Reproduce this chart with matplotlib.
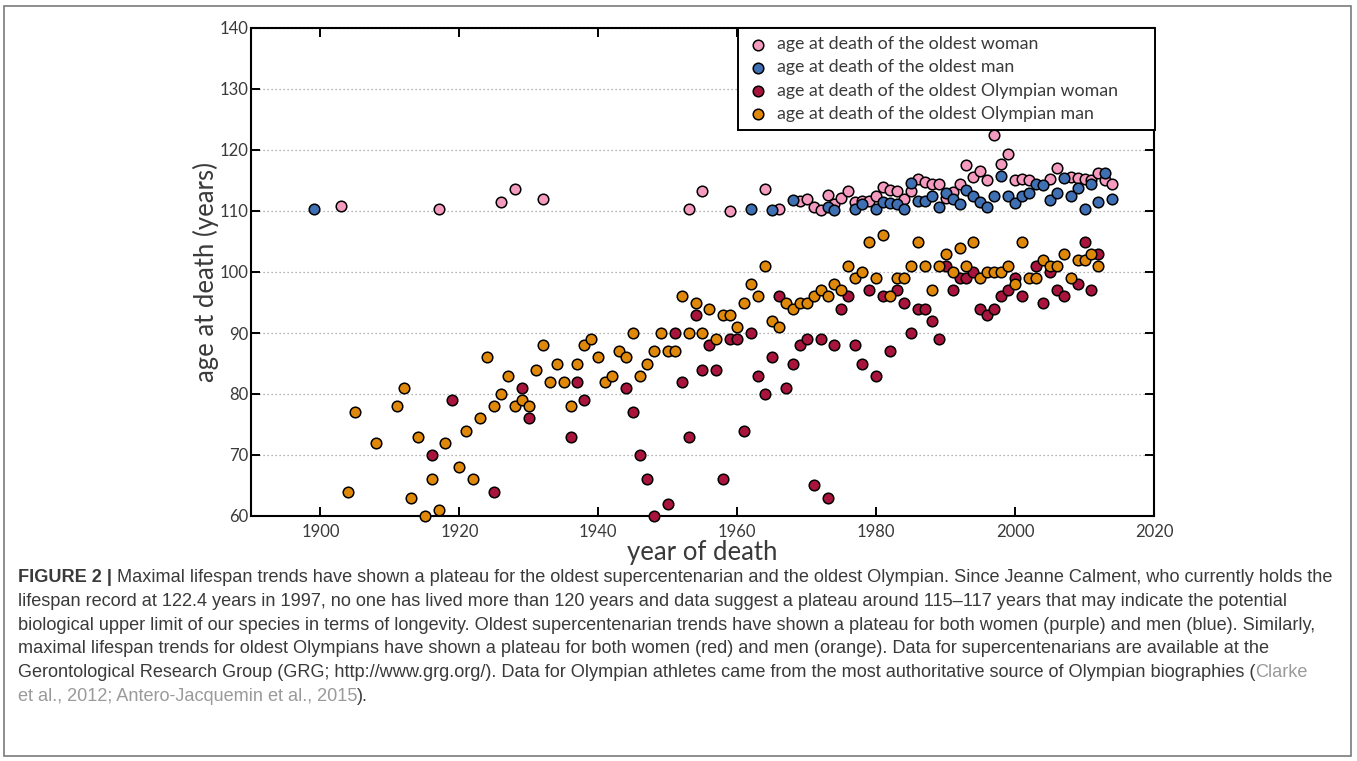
import matplotlib
matplotlib.use("Agg")
import matplotlib.pyplot as plt
from matplotlib.patches import Rectangle
from matplotlib import font_manager

W, H, DPI = 1357, 761, 100

# ---- data -------------------------------------------------------------
woman_years = [1903, 1917, 1926, 1928, 1932, 1953, 1955, 1959, 1964, 1966,
               1969, 1970, 1971, 1972, 1973, 1974, 1975, 1976, 1977, 1978,
               1979, 1980, 1981, 1982, 1983, 1984, 1985, 1986, 1987, 1988,
               1989, 1990, 1991, 1992, 1993, 1994, 1995, 1996, 1997, 1998,
               1999, 2000, 2001, 2002, 2005, 2006, 2008, 2009, 2010, 2011,
               2012, 2013, 2014]
woman_ages = [110.8, 110.3, 111.4, 113.6, 111.9, 110.3, 113.2, 110.0, 113.6, 110.3,
              111.7, 111.9, 110.7, 110.1, 112.7, 111.1, 112.2, 113.2, 111.4, 111.6,
              111.7, 112.4, 113.9, 113.4, 113.3, 112.0, 113.2, 115.3, 114.7, 114.4,
              114.4, 112.2, 113.1, 114.5, 117.6, 115.6, 116.5, 115.0, 122.4, 117.7,
              119.3, 115.0, 115.2, 115.1, 115.2, 117.0, 115.6, 115.4, 115.2, 115.0,
              116.3, 115.1, 114.4]

man_years = [1899, 1962, 1965, 1968, 1973, 1974, 1977, 1978, 1980, 1981,
             1982, 1983, 1984, 1985, 1986, 1987, 1988, 1989, 1990, 1991,
             1992, 1993, 1994, 1995, 1996, 1997, 1998, 1999, 2000, 2001,
             2002, 2003, 2004, 2005, 2006, 2007, 2008, 2009, 2010, 2011,
             2012, 2013, 2014]
man_ages = [110.3, 110.3, 110.1, 111.8, 110.7, 110.1, 110.4, 111.1, 110.4, 111.4,
            111.3, 111.1, 110.3, 114.6, 111.6, 111.6, 112.4, 110.7, 112.9, 111.9,
            111.2, 113.4, 112.4, 111.4, 110.6, 112.4, 115.7, 112.5, 111.3, 112.5,
            112.9, 114.4, 114.3, 111.8, 112.9, 115.4, 112.5, 113.8, 110.4, 114.5,
            111.4, 116.2, 112.0]

oly_woman_years = [1916, 1919, 1925, 1929, 1930, 1936, 1937, 1938, 1944, 1945,
                   1946, 1947, 1948, 1950, 1951, 1952, 1953, 1954, 1955, 1956,
                   1957, 1958, 1959, 1960, 1961, 1962, 1963, 1964, 1965, 1966,
                   1967, 1968, 1969, 1970, 1971, 1972, 1973, 1974, 1975, 1976,
                   1977, 1978, 1979, 1980, 1981, 1982, 1983, 1984, 1985, 1986,
                   1987, 1988, 1989, 1990, 1991, 1992, 1993, 1994, 1995, 1996,
                   1997, 1998, 1999, 2000, 2001, 2003, 2004, 2005, 2006, 2007,
                   2009, 2010, 2011, 2012]
oly_woman_ages = [70, 79, 64, 81, 76, 73, 82, 79, 81, 77,
                  70, 66, 60, 62, 90, 82, 73, 93, 84, 88,
                  84, 66, 89, 89, 74, 90, 83, 80, 86, 96,
                  81, 85, 88, 89, 65, 89, 63, 88, 94, 96,
                  88, 85, 97, 83, 96, 87, 97, 95, 90, 94,
                  94, 92, 89, 101, 97, 99, 99, 100, 94, 93,
                  94, 96, 97, 99, 96, 101, 95, 100, 97, 96,
                  98, 105, 97, 103]

oly_man_years = [1904, 1905, 1908, 1911, 1912, 1913, 1914, 1915, 1916, 1917,
                 1918, 1920, 1921, 1922, 1923, 1924, 1925, 1926, 1927, 1928,
                 1929, 1930, 1931, 1932, 1933, 1934, 1935, 1936, 1937, 1938,
                 1939, 1940, 1941, 1942, 1943, 1944, 1945, 1946, 1947, 1948,
                 1949, 1950, 1951, 1952, 1953, 1954, 1955, 1956, 1957, 1958,
                 1959, 1960, 1961, 1962, 1963, 1964, 1965, 1966, 1967, 1968,
                 1969, 1970, 1971, 1972, 1973, 1974, 1975, 1976, 1977, 1978,
                 1979, 1980, 1981, 1982, 1983, 1984, 1985, 1986, 1987, 1988,
                 1989, 1990, 1991, 1992, 1993, 1994, 1995, 1996, 1997, 1998,
                 1999, 2000, 2001, 2002, 2003, 2004, 2005, 2006, 2007, 2008,
                 2009, 2010, 2011, 2012]
oly_man_ages = [64, 77, 72, 78, 81, 63, 73, 60, 66, 61,
                72, 68, 74, 66, 76, 86, 78, 80, 83, 78,
                79, 78, 84, 88, 82, 85, 82, 78, 85, 88,
                89, 86, 82, 83, 87, 86, 90, 83, 85, 87,
                90, 87, 87, 96, 90, 95, 90, 94, 89, 93,
                93, 91, 95, 98, 96, 101, 92, 91, 95, 94,
                95, 95, 96, 97, 96, 98, 97, 101, 99, 100,
                105, 99, 106, 96, 99, 99, 101, 105, 101, 97,
                101, 103, 100, 104, 101, 105, 99, 100, 100, 100,
                101, 98, 105, 99, 99, 102, 101, 101, 103, 99,
                102, 102, 103, 101]

series_labels = ["age at death of the oldest woman",
                 "age at death of the oldest man",
                 "age at death of the oldest Olympian woman",
                 "age at death of the oldest Olympian man"]
series_colors = ["#f49bbf", "#3f70b3", "#a8143c", "#e0880a"]

x_ticks = [1900, 1920, 1940, 1960, 1980, 2000, 2020]
y_ticks = [60, 70, 80, 90, 100, 110, 120, 130, 140]

caption_lines = [
    [("FIGURE 2 |", "bold", "dark"),
     ("Maximal lifespan trends have shown a plateau for the oldest supercentenarian "
      "and the oldest Olympian. Since Jeanne Calment, who currently holds the", "normal", "dark")],
    [("lifespan record at 122.4 years in 1997, no one has lived more than 120 years and "
      "data suggest a plateau around 115\u2013117 years that may indicate the potential", "normal", "dark")],
    [("biological upper limit of our species in terms of longevity. Oldest supercentenarian "
      "trends have shown a plateau for both women (purple) and men (blue). Similarly,", "normal", "dark")],
    [("maximal lifespan trends for oldest Olympians have shown a plateau for both women "
      "(red) and men (orange). Data for supercentenarians are available at the", "normal", "dark")],
    [("Gerontological Research Group (GRG; http://www.grg.org/). Data for Olympian athletes "
      "came from the most authoritative source of Olympian biographies (", "normal", "dark"),
     ("Clarke", "normal", "link")],
    [("et al., 2012; Antero-Jacquemin et al., 2015", "normal", "link"),
     (").", "normal", "dark-tight")],
]

# ---- fonts --------------------------------------------------------------
installed = {f.name for f in font_manager.fontManager.ttflist}


def pick(*names):
    for n in names:
        if n in installed:
            return n
    return "DejaVu Sans"


chart_font = pick("Lato", "Open Sans", "Noto Sans")
caption_font = pick("Liberation Sans Narrow", "Liberation Sans", "Roboto")
plt.rcParams["font.family"] = [chart_font, "DejaVu Sans"]

text_dark = "#3a3a3a"

# ---- figure -------------------------------------------------------------
fig = plt.figure(figsize=(W / DPI, H / DPI), dpi=DPI)
fig.patch.set_facecolor("white")


def px_box(x0, y0, x1, y1):
    return [x0 / W, 1 - y1 / H, (x1 - x0) / W, (y1 - y0) / H]


ax = fig.add_axes(px_box(251, 28, 1154, 516))

series = [(woman_years, woman_ages), (man_years, man_ages),
          (oly_woman_years, oly_woman_ages), (oly_man_years, oly_man_ages)]
handles = []
for (xs, ys), col, lab in zip(series, series_colors, series_labels):
    h = ax.scatter(xs, ys, s=58, c=col, edgecolors="black", linewidths=1.1,
                   label=lab, zorder=3, clip_on=False)
    handles.append(h)

ax.set_xlim(1890, 2020)
ax.set_ylim(60, 140)
ax.set_xticks(x_ticks)
ax.set_yticks(y_ticks)

ax.set_axisbelow(True)
ax.yaxis.grid(True, linestyle=(0, (1, 2.2)), color="#9a9a9a", linewidth=0.9)
ax.xaxis.grid(False)

for sp in ax.spines.values():
    sp.set_linewidth(1.5)
    sp.set_color("black")

ax.tick_params(axis="both", direction="in", length=6.5, width=1.4,
               top=True, right=True, color="black",
               labelsize=12, labelcolor=text_dark)
ax.tick_params(axis="y", pad=2)
ax.tick_params(axis="x", pad=6)

ax.set_xlabel("year of death", fontsize=18.5, color=text_dark, labelpad=0)
ax.set_ylabel("age at death (years)", fontsize=18.5, color=text_dark, labelpad=0)

# legend box spanning from 738px to the right spine, flush with the top spine
lx0, lx1 = 738, 1155
leg = ax.legend(handles=handles, loc="upper left",
                bbox_to_anchor=((lx0 - 251) / (1154 - 251), 1.0,
                                (lx1 - lx0) / (1154 - 251), 0.0),
                mode="expand", borderaxespad=0, fancybox=False,
                fontsize=12.8, handlelength=1.3, handletextpad=0.42,
                borderpad=0.47, labelspacing=0.4, scatterpoints=1,
                framealpha=1, edgecolor="black")
leg.get_frame().set_linewidth(1.4)
leg.set_zorder(5)
for t in leg.get_texts():
    t.set_color(text_dark)

# outer frame around figure and caption
fig.patches.append(Rectangle((4 / W, 1 - 756 / H), (1351 - 4) / W, (756 - 6) / H,
                             transform=fig.transFigure, fill=False,
                             edgecolor="#7a7a7a", linewidth=1.2))

# ---- caption ---------------------------------------------------------------
fig.canvas.draw()
renderer = fig.canvas.get_renderer()
colors = {"dark": text_dark, "dark-tight": text_dark, "link": "#9a9a9a"}


def text_width(s, size, weight="normal"):
    t = fig.text(0, 0, s, fontsize=size, fontweight=weight, family=caption_font)
    w = t.get_window_extent(renderer=renderer).width
    t.remove()
    return w


def line_width(runs, size):
    sp = text_width("x x", size) - text_width("xx", size)
    total = 0.0
    for i, (s, wgt, kind) in enumerate(runs):
        total += text_width(s, size, wgt)
        if i < len(runs) - 1 and kind == "dark" and runs[i + 1][2] != "link":
            total += sp
    return total


base = 12.0
scale = 1317.0 / line_width(caption_lines[0], base)
cap_size = base * scale
space_w = text_width("x x", cap_size) - text_width("xx", cap_size)

left_px = 18
first_baseline = 582
line_step = 23.8
for li, runs in enumerate(caption_lines):
    x = left_px
    y = first_baseline + li * line_step
    for i, (s, wgt, kind) in enumerate(runs):
        t = fig.text(x / W, 1 - y / H, s, fontsize=cap_size, fontweight=wgt,
                     family=caption_font, color=colors[kind], va="baseline", ha="left")
        x += t.get_window_extent(renderer=renderer).width
        if i < len(runs) - 1 and kind == "dark" and runs[i + 1][2] != "link":
            x += space_w

fig.savefig("out.png", dpi=DPI, facecolor="white")
